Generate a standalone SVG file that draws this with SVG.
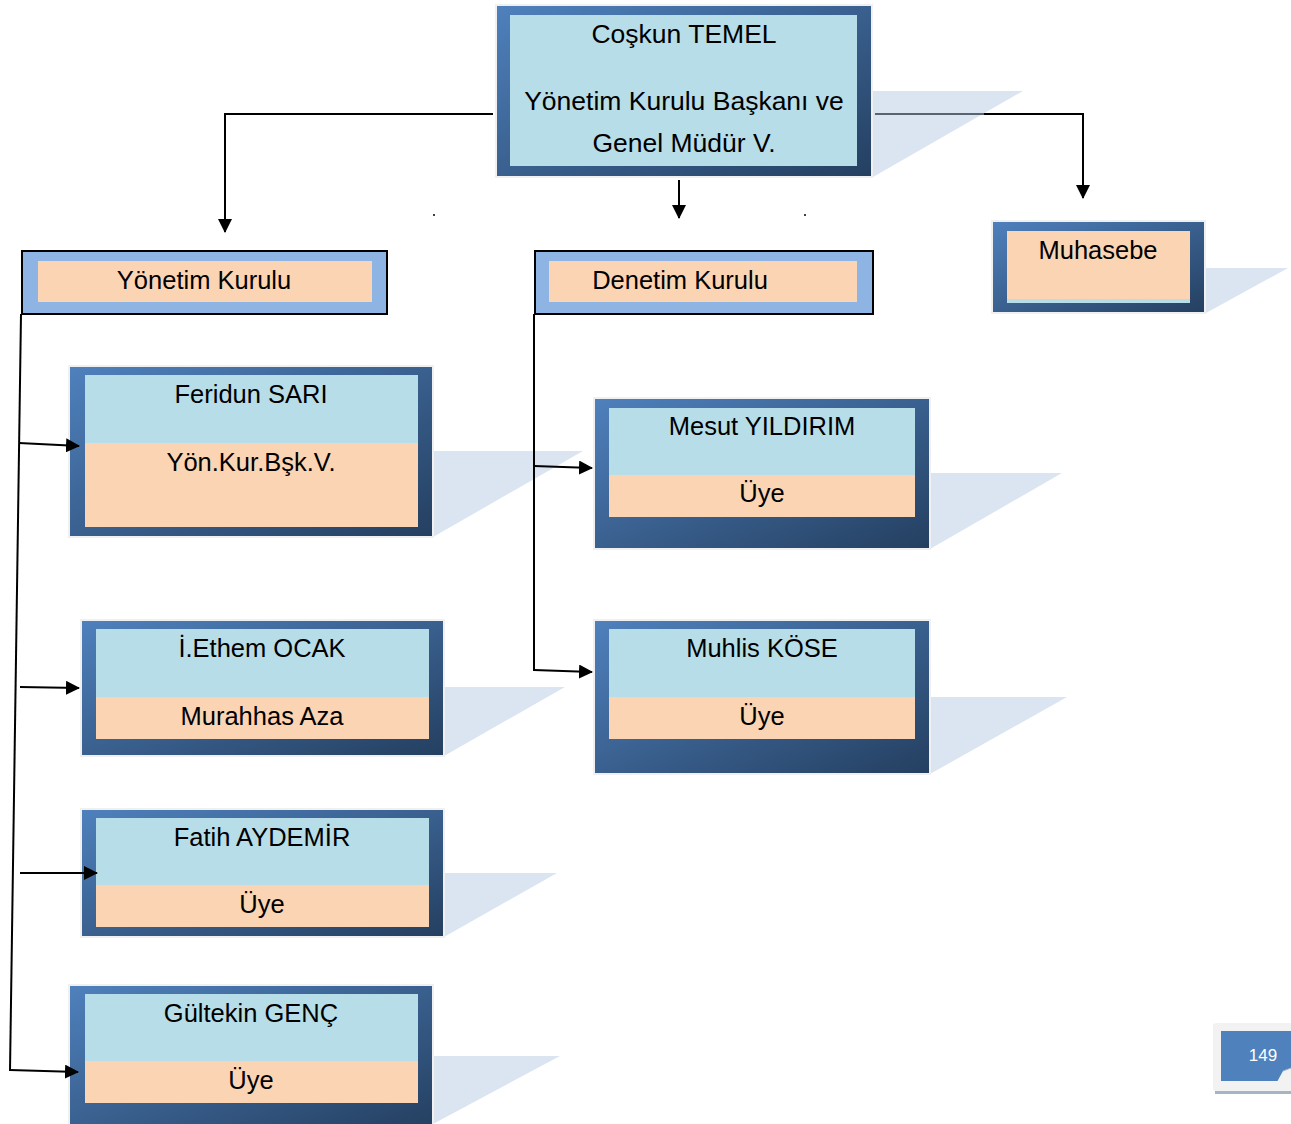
<svg xmlns="http://www.w3.org/2000/svg" width="1291" height="1124" viewBox="0 0 1291 1124">
<defs>
<linearGradient id="frameGrad" x1="0" y1="0" x2="1" y2="1">
<stop offset="0" stop-color="#4F81BD"/>
<stop offset="1" stop-color="#243F60"/>
</linearGradient>
<marker id="arr" markerUnits="userSpaceOnUse" markerWidth="14" markerHeight="14" viewBox="0 0 14 14" refX="13" refY="7" orient="auto">
<path d="M0,0 L14,7 L0,14 Z" fill="#000"/>
</marker>
<style>
.frame{fill:url(#frameGrad);stroke:#F0F0F0;stroke-width:2}
.blue{fill:#B7DDE8}
.peach{fill:#FBD4B4}
.shadow{fill:#DBE5F1}
.hdr{fill:#8EB4E3;stroke:#000;stroke-width:2}
.t{font-family:"Liberation Sans",Arial,sans-serif;font-size:25.5px;fill:#000;text-anchor:middle}
.tb{font-size:26.5px}
.ln{fill:none;stroke:#000;stroke-width:2}
</style>
</defs>
<rect width="1291" height="1124" fill="#fff"/>

<g id="shadows">
<polygon class="shadow" points="873,91 1023,91 873,177"/>
<polygon class="shadow" points="1206,268 1288,268 1206,313"/>
<polygon class="shadow" points="433,451 583,451 433,537"/>
<polygon class="shadow" points="930,473 1062,473 930,549"/>
<polygon class="shadow" points="444,687 565,687 444,756"/>
<polygon class="shadow" points="930,697 1067,697 930,774"/>
<polygon class="shadow" points="444,873 557,873 444,937"/>
<polygon class="shadow" points="433,1056 560,1056 433,1124"/>
</g>

<g id="node-coskun">
<rect class="frame" x="496" y="5" width="376" height="172"/>
<rect class="blue" x="510" y="15" width="347" height="151"/>
<text class="t tb" x="684" y="43">Coşkun TEMEL</text>
<text class="t tb" x="684" y="110">Yönetim Kurulu Başkanı ve</text>
<text class="t tb" x="684" y="152">Genel Müdür V.</text>
</g>

<g id="node-yonetim">
<rect class="hdr" x="22" y="251" width="365" height="63"/>
<rect class="peach" x="38" y="261" width="334" height="41"/>
<text class="t" x="204" y="289">Yönetim Kurulu</text>
</g>

<g id="node-denetim">
<rect class="hdr" x="535" y="251" width="338" height="63"/>
<rect class="peach" x="549" y="261" width="308" height="41"/>
<text class="t" x="680" y="289">Denetim Kurulu</text>
</g>

<g id="node-muhasebe">
<rect class="frame" x="992" y="221" width="213" height="92"/>
<rect class="blue" x="1007" y="231" width="183" height="72"/>
<rect class="peach" x="1007" y="231" width="183" height="68"/>
<text class="t" x="1098" y="259">Muhasebe</text>
</g>

<g id="node-feridun">
<rect class="frame" x="69" y="366" width="364" height="171"/>
<rect class="blue" x="85" y="375" width="333" height="68"/>
<rect class="peach" x="85" y="443" width="333" height="84"/>
<text class="t" x="251" y="403">Feridun SARI</text>
<text class="t" x="251" y="471">Yön.Kur.Bşk.V.</text>
</g>

<g id="node-mesut">
<rect class="frame" x="594" y="398" width="336" height="151"/>
<rect class="blue" x="609" y="408" width="306" height="67"/>
<rect class="peach" x="609" y="475" width="306" height="42"/>
<text class="t" x="762" y="435">Mesut YILDIRIM</text>
<text class="t" x="762" y="502">Üye</text>
</g>

<g id="node-ethem">
<rect class="frame" x="81" y="620" width="363" height="136"/>
<rect class="blue" x="96" y="629" width="333" height="68"/>
<rect class="peach" x="96" y="697" width="333" height="42"/>
<text class="t" x="262" y="657">İ.Ethem OCAK</text>
<text class="t" x="262" y="725">Murahhas Aza</text>
</g>

<g id="node-muhlis">
<rect class="frame" x="594" y="620" width="336" height="154"/>
<rect class="blue" x="609" y="629" width="306" height="68"/>
<rect class="peach" x="609" y="697" width="306" height="42"/>
<text class="t" x="762" y="657">Muhlis KÖSE</text>
<text class="t" x="762" y="725">Üye</text>
</g>

<g id="node-fatih">
<rect class="frame" x="81" y="809" width="363" height="128"/>
<rect class="blue" x="96" y="818" width="333" height="67"/>
<rect class="peach" x="96" y="885" width="333" height="42"/>
<text class="t" x="262" y="846">Fatih AYDEMİR</text>
<text class="t" x="262" y="913">Üye</text>
</g>

<g id="node-gultekin">
<rect class="frame" x="69" y="985" width="364" height="145"/>
<rect class="blue" x="85" y="994" width="333" height="67"/>
<rect class="peach" x="85" y="1061" width="333" height="42"/>
<text class="t" x="251" y="1022">Gültekin GENÇ</text>
<text class="t" x="251" y="1089">Üye</text>
</g>

<g id="page-number">
<rect x="1215" y="1088" width="80" height="6" fill="#A6B4C4"/>
<rect x="1213" y="1023" width="90" height="68" rx="3" fill="#F2F2F2"/>
<rect x="1221" y="1031" width="75" height="50" fill="#4F81BD"/>
<path d="M1272,1091 L1283,1071 L1291,1068 L1291,1091 Z" fill="#F2F2F2"/>
<path d="M1283,1071 L1291,1068" stroke="#A6B4C4" stroke-width="1" fill="none"/>
<text x="1263" y="1061" font-family="'Liberation Sans',Arial,sans-serif" font-size="17" fill="#fff" text-anchor="middle">149</text>
</g>

<g id="connectors">
<polyline class="ln" points="493,114 225,114 225,232" marker-end="url(#arr)"/>
<line x1="875" y1="114" x2="985" y2="114" stroke="#5a6470" stroke-width="2"/>
<polyline class="ln" points="984,114 1083,114 1083,198" marker-end="url(#arr)"/>
<line class="ln" x1="679" y1="180" x2="679" y2="218" marker-end="url(#arr)"/>
<line class="ln" x1="21" y1="314" x2="10" y2="1071"/>
<line class="ln" x1="19" y1="443" x2="79" y2="446" marker-end="url(#arr)"/>
<line class="ln" x1="20" y1="687" x2="79" y2="688" marker-end="url(#arr)"/>
<line class="ln" x1="20" y1="873" x2="97" y2="873" marker-end="url(#arr)"/>
<polyline class="ln" points="10,1070 78,1072" marker-end="url(#arr)"/>
<line class="ln" x1="534" y1="314" x2="534" y2="671"/>
<line class="ln" x1="534" y1="466" x2="592" y2="468" marker-end="url(#arr)"/>
<polyline class="ln" points="534,670 592,672" marker-end="url(#arr)"/>
<circle cx="434" cy="215" r="1" fill="#000"/>
<circle cx="805" cy="215" r="1" fill="#000"/>
</g>
</svg>
